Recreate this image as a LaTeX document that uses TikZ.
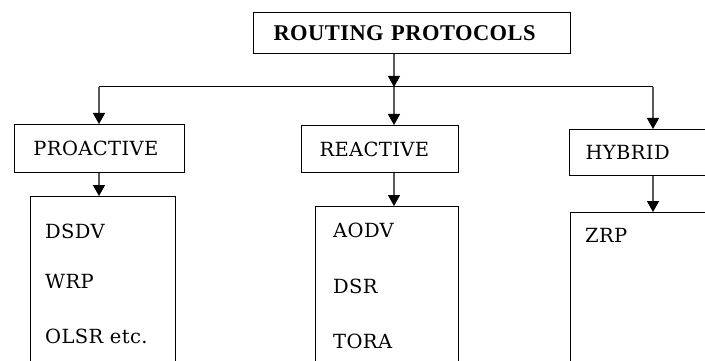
\documentclass[tikz,border=0pt]{standalone}
\usepackage{fontspec}
\setmainfont{Liberation Serif}
\newfontfamily\boxfont[LetterSpace=2]{DejaVu Serif}
\newfontfamily\titlefont[LetterSpace=2]{Liberation Serif}
\usetikzlibrary{arrows.meta}
\begin{document}
\begin{tikzpicture}[x=1pt,y=-1pt,
  box/.style={draw=black,line width=1pt,rectangle,anchor=north west,inner ysep=0pt,align=left,font=\boxfont\fontsize{19.5}{22}\selectfont},
  titlebox/.style={box,font=\titlefont\bfseries\fontsize{22.5}{24}\selectfont},
  listbox/.style={draw=black,line width=1pt,rectangle,anchor=north west,inner sep=0pt},
  item/.style={anchor=west,inner sep=0pt,font=\boxfont\fontsize{19.5}{22}\selectfont},
  arr/.style={line width=1.4pt,draw=black!65,-{Triangle[width=12pt,length=11pt,color=black,fill=black]}},
  bus/.style={line width=1pt,draw=black}]
\useasboundingbox (0,0) rectangle (705,361);
\clip (0,0) rectangle (705,361);
% boxes
\node[titlebox,inner xsep=20pt,text width=277pt,minimum height=41pt] (root) at (253,12) {ROUTING PROTOCOLS};
\node[box,inner xsep=19pt,text width=132pt,minimum height=48pt] (pro) at (14,124) {PROACTIVE};
\node[box,inner xsep=18pt,text width=121pt,minimum height=47pt] (rea) at (301,125) {REACTIVE};
\node[box,inner xsep=16pt,text width=119pt,minimum height=46pt] (hyb) at (569,129) {HYBRID};
\node[listbox,minimum width=145pt,minimum height=180pt] (plist) at (30,196) {};
\node[listbox,minimum width=143pt,minimum height=170pt] (rlist) at (315,206) {};
\node[listbox,minimum width=150pt,minimum height=160pt] (hlist) at (570,212) {};
% items
\node[item] (dsdv) at (45,231) {DSDV};
\node[item] (wrp) at (45,281) {WRP};
\node[item] (olsr) at (45,336) {OLSR etc.};
\node[item] (aodv) at (333,230) {AODV};
\node[item] (dsr) at (333,286) {DSR};
\node[item] (tora) at (333,341) {TORA};
\node[item] (zrp) at (585,235) {ZRP};
% connectors
\coordinate (busL) at (99,87);
\coordinate (busM) at (394,87);
\coordinate (busR) at (653,87);
\draw[bus] (busL) -- (busR);
\draw[arr] (root.south -| busM) -- (busM);
\draw[arr] (busL) -- (pro.north -| busL);
\draw[arr] (busM) -- (rea.north -| busM);
\draw[arr] (busR) -- (hyb.north -| busR);
\draw[arr] (pro.south -| busL) -- (plist.north -| busL);
\draw[arr] (rea.south -| busM) -- (rlist.north -| busM);
\draw[arr] (hyb.south -| busR) -- (hlist.north -| busR);
\end{tikzpicture}
\end{document}
